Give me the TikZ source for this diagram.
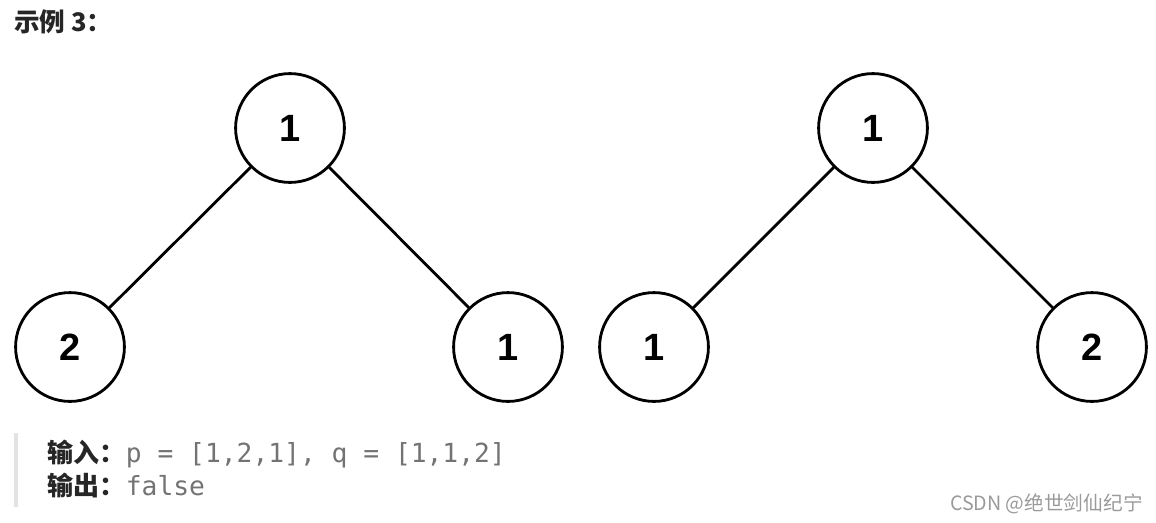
\documentclass[tikz,border=0pt]{standalone}
\usepackage{fontspec}
\setmainfont{Liberation Sans}
\setmonofont{DejaVu Sans Mono}
\newfontfamily\cjk{Noto Sans CJK SC}
\usetikzlibrary{positioning}
\tikzset{
  treenode/.style={draw, circle, line width=2pt, minimum size=2.72cm, inner sep=0pt,
    font=\fontsize{27}{27}\selectfont\bfseries},
  treeedge/.style={line width=2pt, line cap=round},
  cjklabel/.style={anchor=base west, inner sep=0pt, font=\cjk\bfseries\fontsize{18.5}{18.5}\selectfont, text=black!85},
  codetext/.style={anchor=base west, inner sep=0pt, font=\ttfamily\fontsize{18.7}{18.7}\selectfont, text=black!55}
}
\definecolor{QuoteBar}{HTML}{E3E3E3}
\definecolor{MarkGray}{HTML}{9A9A9A}

\begin{document}
\begin{tikzpicture}[x=0.025cm, y=-0.025cm]
\useasboundingbox (0,0) rectangle (1156,522);

% title
\node[cjklabel, font=\cjk\bfseries\fontsize{18.2}{18.2}\selectfont] at (14,31) (title) {示例 3：};

% first tree p
\node[treenode] at (290,128) (proot) {1};
\node[treenode] at (70,347) (pleft) {2};
\node[treenode] at (508,347) (pright) {1};
\draw[treeedge] (proot) -- (pleft);
\draw[treeedge] (proot) -- (pright);

% second tree q
\node[treenode] at (873,128) (qroot) {1};
\node[treenode] at (654,347) (qleft) {1};
\node[treenode] at (1092,347) (qright) {2};
\draw[treeedge] (qroot) -- (qleft);
\draw[treeedge] (qroot) -- (qright);

% input / output block
\coordinate (bartop) at (16,433);
\coordinate (barbot) at (16,507);
\draw[QuoteBar, line width=2.2pt] (bartop) -- (barbot);
\node[cjklabel] at (47,462) (inlabel) {输入：};
\node[codetext, right=0pt of inlabel.base east, anchor=base west] (invalue) {p = [1,2,1], q = [1,1,2]};
\node[cjklabel] at (47,495) (outlabel) {输出：};
\node[codetext, right=0pt of outlabel.base east, anchor=base west] (outvalue) {false};

% watermark
\node[anchor=base east, inner sep=0pt, font=\cjk\fontsize{14}{14}\selectfont, text=MarkGray] at (1143,510) (mark) {CSDN @绝世剑仙纪宁};
\end{tikzpicture}
\end{document}
